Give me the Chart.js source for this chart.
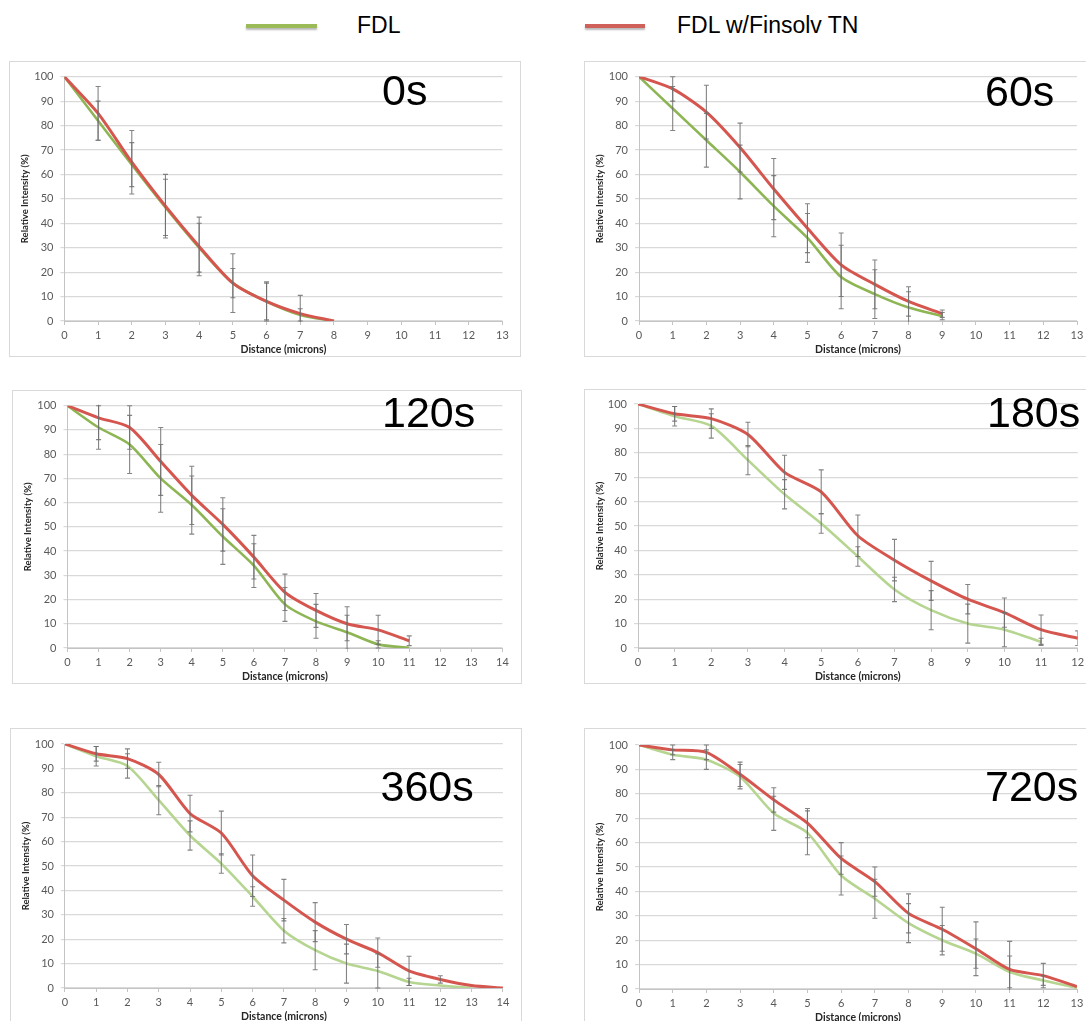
<!DOCTYPE html>
<html>
<head>
<meta charset="utf-8">
<script src="https://cdn.jsdelivr.net/npm/chart.js@4.4.1/dist/chart.umd.min.js"></script>
<style>
  html, body { margin: 0; padding: 0; background: #fff; }
  body { width: 1086px; height: 1021px; overflow: hidden; position: relative; }
  .frame { position: absolute; border: 1px solid #d9d9d9; box-sizing: border-box; background: #fff; }
  canvas.panel { position: absolute; }
  .legend-line { position: absolute; height: 4px; box-shadow: 0 2px 2px rgba(0,0,0,0.28); }
  .legend-text { position: absolute; font-family: "Liberation Sans", Arial, sans-serif; font-size: 23px; color: #000; line-height: 26px; white-space: nowrap; }
</style>
</head>
<body>
<div id="legend"></div>
<script>
// ---- series names and panel captions ----
const seriesNames = ['FDL', 'FDL w/Finsolv TN'];
const panelLabels = ['0s', '60s', '120s', '180s', '360s', '720s'];
const distanceMax = [13, 13, 14, 12, 14, 13];

// ---- relative intensity (%) at each micron, with error half-widths ----
// 0 s
const fdl0s      = [100, 82, 64, 46.5, 30, 15.5, 8, 2.5, 0];
const fdl0sErr   = [0, 8, 9, 11.5, 10, 6, 7.5, 2.5, 0];
const fin0s      = [100, 85, 65, 47, 30.5, 15.5, 8, 3, 0];
const fin0sErr   = [0, 11, 13, 13, 12, 12, 8, 7.5, 0];
// 60 s
const fdl60s     = [100, 87, 74, 61, 47, 34, 18, 11, 5.5, 2];
const fdl60sErr  = [0, 9, 11, 11, 12.5, 10, 13, 10, 6.5, 1.5];
const fin60s     = [100, 95, 85.5, 71, 54, 38, 23, 15, 8, 3];
const fin60sErr  = [0, 5, 11, 10, 12.5, 10, 13, 10, 6, 1.5];
// 120 s
const fdl120s    = [100, 91, 84, 70, 59, 46, 34, 18, 11, 6.5, 1.5, 0];
const fdl120sErr = [0, 9, 12, 14, 12, 11.5, 9, 7, 7, 7, 1.5, 0];
const fin120s    = [100, 95, 91, 77, 63, 51, 37.5, 23, 15.5, 10, 7.5, 3];
const fin120sErr = [0, 9, 9, 14, 12, 11, 9, 7.5, 7, 7, 6, 2];
// 180 s
const fdl180s    = [100, 95, 91, 77, 63, 51, 37.5, 24, 15.5, 10, 7.5, 2.5];
const fdl180sErr = [0, 4, 5, 6, 6, 4, 4, 5, 8, 8, 7, 1.5];
const fin180s    = [100, 96, 94, 87.5, 72, 64, 46, 36, 27.5, 20, 14.5, 7.5, 4];
const fin180sErr = [0, 3, 4, 5, 7, 9, 8.5, 8.5, 8, 6, 6, 6, 3];
// 360 s
const fdl360s    = [100, 95, 91, 77, 62.5, 51, 37.5, 23.5, 15.5, 10, 7, 2.5, 1, 0];
const fdl360sErr = [0, 4, 5, 6, 6, 4, 4, 5, 8, 8, 7, 1.5, 0, 0];
const fin360s    = [100, 96, 94, 87.5, 71.5, 63.5, 46, 36, 27, 20, 14.5, 7, 3.5, 1, 0];
const fin360sErr = [0, 3, 4, 5, 7.5, 9, 8.5, 8.5, 8, 6, 6, 6, 1.5, 0, 0];
// 720 s
const fdl720s    = [100, 96, 94, 87, 72, 64, 46.5, 37, 27, 20, 14.5, 7, 3.5, 0.5];
const fdl720sErr = [0, 2, 4, 5, 7, 9, 8, 8, 8, 6, 6, 6.5, 2, 0];
const fin720s    = [100, 98, 97, 88, 77.5, 68, 53.5, 44, 31, 24.5, 16.5, 8, 5.5, 1];
const fin720sErr = [0, 2, 3, 5, 5, 6, 6.5, 6, 8, 9, 11, 11.5, 5, 0];

const panelSeries = [
  [fdl0s, fdl0sErr, fin0s, fin0sErr],
  [fdl60s, fdl60sErr, fin60s, fin60sErr],
  [fdl120s, fdl120sErr, fin120s, fin120sErr],
  [fdl180s, fdl180sErr, fin180s, fin180sErr],
  [fdl360s, fdl360sErr, fin360s, fin360sErr],
  [fdl720s, fdl720sErr, fin720s, fin720sErr]
];

// ---- page layout: frame box, plot area, caption anchor (page pixels) ----
const layout = [
  { frame: [9, 61, 512],    area: [64.4, 76.7, 502.4, 321],  tag: [382, 105], green: '#8db553' },
  { frame: [584, 61, 520],  area: [639, 76.7, 1077, 321],    tag: [985, 106], green: '#8db553' },
  { frame: [12, 390, 510],  area: [67.5, 405.7, 502.4, 648], tag: [382, 427], green: '#8db553' },
  { frame: [584, 389, 520], area: [638, 404, 1077.7, 648],   tag: [987, 427], green: '#b5d590' },
  { frame: [9.5, 728, 512], area: [64.4, 744, 502.4, 988.3], tag: [380, 801], green: '#b5d590' },
  { frame: [584, 728, 520], area: [639, 745, 1077, 989],     tag: [985, 801], green: '#b5d590' }
];

const RED = '#d5564f';
const TICK_COLOR = '#595959';
const GRID_COLOR = '#d9d9d9';
const AXIS_COLOR = '#c4c4c4';
const TITLE_COLOR = '#262626';
const BELOW_AXIS = 36;

Chart.defaults.font.family = 'Lato, "Open Sans", sans-serif';

// ---- legend ----
const legend = document.getElementById('legend');
const legendItems = [
  { name: seriesNames[0], color: '#9bbb59', line: [246, 71], text: 357 },
  { name: seriesNames[1], color: '#d0605a', line: [585, 60], text: 677 }
];
legendItems.forEach(it => {
  const ln = document.createElement('div');
  ln.className = 'legend-line';
  ln.style.left = it.line[0] + 'px';
  ln.style.width = it.line[1] + 'px';
  ln.style.top = '24px';
  ln.style.background = it.color;
  legend.appendChild(ln);
  const tx = document.createElement('div');
  tx.className = 'legend-text';
  tx.style.left = it.text + 'px';
  tx.style.top = '12px';
  tx.textContent = it.name;
  legend.appendChild(tx);
});

// vertical error bars with caps, drawn from each dataset's "errors" list
const errorBars = {
  id: 'errorBars',
  afterDatasetsDraw(chart) {
    const { ctx, chartArea, scales: { x, y } } = chart;
    ctx.save();
    ctx.beginPath();
    ctx.rect(chartArea.left, chartArea.top - 1, chartArea.right - chartArea.left, chartArea.bottom - chartArea.top + 2);
    ctx.clip();
    ctx.strokeStyle = 'rgba(110,110,110,0.85)';
    ctx.lineWidth = 1.1;
    chart.data.datasets.forEach(ds => {
      const errs = ds.errors || [];
      ds.data.forEach((p, i) => {
        const e = errs[i];
        if (!e) return;
        const px = x.getPixelForValue(p.x);
        const yHi = y.getPixelForValue(p.y + e);
        const yLo = y.getPixelForValue(p.y - e);
        ctx.beginPath();
        ctx.moveTo(px, yHi); ctx.lineTo(px, yLo);
        ctx.moveTo(px - 2.5, yHi); ctx.lineTo(px + 2.5, yHi);
        ctx.moveTo(px - 2.5, yLo); ctx.lineTo(px + 2.5, yLo);
        ctx.stroke();
      });
    });
    ctx.restore();
  }
};

// large time caption inside each panel
const panelTag = {
  id: 'panelTag',
  afterDraw(chart, args, opts) {
    const { ctx } = chart;
    ctx.save();
    ctx.font = '43px "Liberation Sans", Arial, sans-serif';
    ctx.fillStyle = '#000';
    ctx.textBaseline = 'alphabetic';
    ctx.textAlign = 'left';
    ctx.fillText(opts.text, opts.x, opts.y);
    ctx.restore();
  }
};

const toPoints = vals => vals.map((v, i) => ({ x: i, y: v }));

layout.forEach((L, k) => {
  const [fx, fy, fw] = L.frame;
  const [al, at, ar, ab] = L.area;
  const fh = ab + BELOW_AXIS - fy;

  const frame = document.createElement('div');
  frame.className = 'frame';
  Object.assign(frame.style, { left: fx + 'px', top: fy + 'px', width: fw + 'px', height: fh + 'px' });
  document.body.appendChild(frame);

  const cv = document.createElement('canvas');
  cv.className = 'panel';
  cv.width = Math.round(fw);
  cv.height = Math.round(fh);
  Object.assign(cv.style, { left: fx + 'px', top: fy + 'px', width: Math.round(fw) + 'px', height: Math.round(fh) + 'px' });
  document.body.appendChild(cv);

  const [fdl, fdlErr, fin, finErr] = panelSeries[k];
  const yWidth = al - fx;
  const padTop = at - fy;
  const padRight = Math.round(fw) - (ar - fx);

  new Chart(cv, {
    type: 'line',
    data: {
      datasets: [
        { label: seriesNames[1], data: toPoints(fin), errors: finErr, borderColor: RED, borderWidth: 3,
          pointRadius: 0, tension: 0.25, order: 0 },
        { label: seriesNames[0], data: toPoints(fdl), errors: fdlErr, borderColor: L.green, borderWidth: 2.6,
          pointRadius: 0, tension: 0.25, order: 1 }
      ]
    },
    options: {
      responsive: false,
      animation: false,
      devicePixelRatio: 1,
      layout: { padding: { left: 0, top: padTop, right: padRight, bottom: 0 } },
      plugins: {
        legend: { display: false },
        tooltip: { enabled: false },
        panelTag: { text: panelLabels[k], x: L.tag[0] - fx, y: L.tag[1] - fy }
      },
      scales: {
        x: {
          type: 'linear', min: 0, max: distanceMax[k],
          ticks: { stepSize: 1, color: TICK_COLOR, font: { size: 11 }, padding: 4, maxRotation: 0, autoSkip: false },
          grid: { drawOnChartArea: false, drawTicks: true, tickLength: 4, color: AXIS_COLOR },
          border: { color: AXIS_COLOR },
          title: { display: true, text: 'Distance (microns)', color: TITLE_COLOR,
                   font: { size: 10.5, weight: 'bold' }, padding: { top: 0, bottom: 1.5 } },
          afterFit(s) { s.height = BELOW_AXIS; }
        },
        y: {
          min: 0, max: 100,
          ticks: { stepSize: 10, color: TICK_COLOR, font: { size: 11 }, padding: 7 },
          grid: { color: GRID_COLOR, lineWidth: 1.2, tickLength: 4 },
          border: { color: AXIS_COLOR },
          title: { display: true, text: 'Relative Intensity (%)', color: TITLE_COLOR,
                   font: { size: 9.5, weight: 'bold' }, padding: { top: 10, bottom: 0 } },
          afterFit(s) { s.width = yWidth; }
        }
      }
    },
    plugins: [errorBars, panelTag]
  });
});
</script>
</body>
</html>
